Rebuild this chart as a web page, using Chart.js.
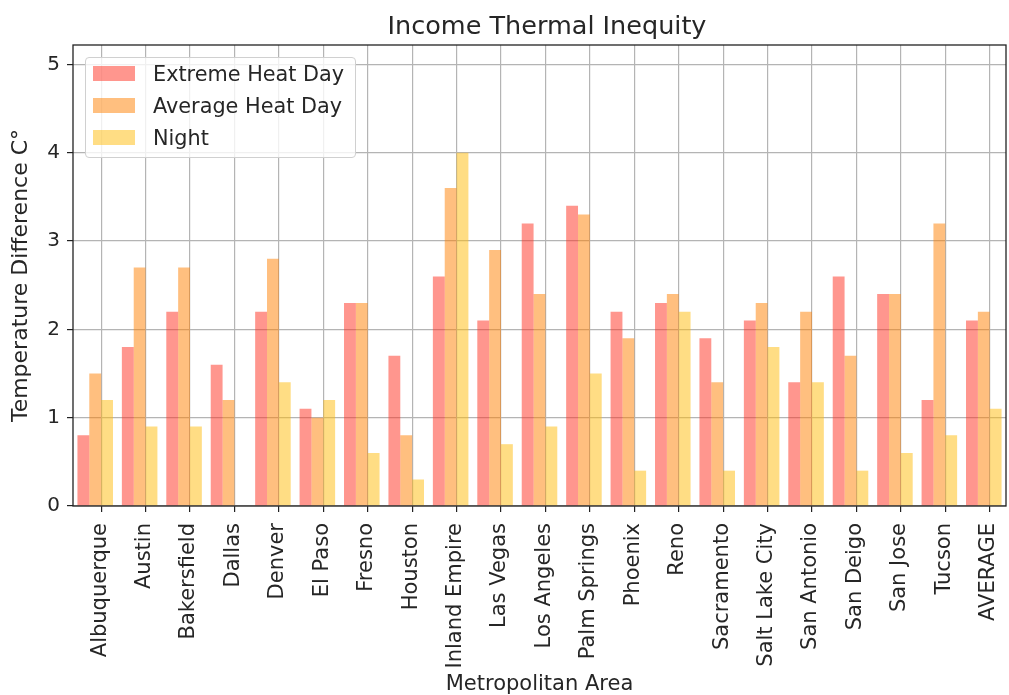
<!DOCTYPE html>
<html lang="en">

<head>
    <meta charset="UTF-8">
    <title>Income Thermal Inequity</title>
    <script src="https://cdn.jsdelivr.net/npm/chart.js"></script>
    <style>
        body { margin: 0; background: #fff; }
        #wrap { position: relative; width: 1009px; height: 695px; }
        #title {
            position: absolute; left: 347px; top: 10px; width: 400px; text-align: center;
            font-family: "DejaVu Sans", sans-serif; font-size: 25.5px; color: #262626; line-height: 30px;
        }
        #legend {
            position: absolute; left: 85px; top: 57px; width: 271px; height: 101px;
            border: 1px solid #d0d0d0; border-radius: 4px; background: rgba(255, 255, 255, 0.8);
            font-family: "DejaVu Sans", sans-serif; font-size: 20.8px; color: #262626;
            box-sizing: border-box;
        }
        .item { position: absolute; left: 7px; height: 24px; line-height: 24px; white-space: nowrap; }
        .sw { display: inline-block; width: 42px; height: 15px; vertical-align: middle; margin-right: 18px; position: relative; top: -2px; }
    </style>
</head>

<body>
    <div id="wrap">
        <canvas id="myChart" width="1009" height="695"></canvas>
        <div id="title">Income Thermal Inequity</div>
        <div id="legend"></div>
    </div>
    <script>
        const categories = ['Albuquerque', 'Austin', 'Bakersfield', 'Dallas', 'Denver', 'El Paso', 'Fresno',
            'Houston', 'Inland Empire', 'Las Vegas', 'Los Angeles', 'Palm Springs', 'Phoenix', 'Reno',
            'Sacramento', 'Salt Lake City', 'San Antonio', 'San Deigo', 'San Jose', 'Tucson', 'AVERAGE'];

        const extremeHeatDay = [0.8, 1.8, 2.2, 1.6, 2.2, 1.1, 2.3, 1.7, 2.6, 2.1, 3.2, 3.4, 2.2, 2.3, 1.9, 2.1, 1.4, 2.6, 2.4, 1.2, 2.1];
        const averageHeatDay = [1.5, 2.7, 2.7, 1.2, 2.8, 1.0, 2.3, 0.8, 3.6, 2.9, 2.4, 3.3, 1.9, 2.4, 1.4, 2.3, 2.2, 1.7, 2.4, 3.2, 2.2];
        const night = [1.2, 0.9, 0.9, 0, 1.4, 1.2, 0.6, 0.3, 4.0, 0.7, 0.9, 1.5, 0.4, 2.2, 0.4, 1.8, 1.4, 0.4, 0.6, 0.8, 1.1];

        const seriesNames = ['Extreme Heat Day', 'Average Heat Day', 'Night'];
        const seriesColors = ['rgba(255, 45, 30, 0.5)', 'rgba(255, 128, 0, 0.5)', 'rgba(255, 188, 10, 0.5)'];
        const yTicks = [0, 1, 2, 3, 4, 5];

        const font = "'DejaVu Sans', sans-serif";
        const textColor = '#262626';

        // box around the plot area, like matplotlib spines
        const frame = {
            id: 'frame',
            afterDraw(chart) {
                const a = chart.chartArea;
                const ctx = chart.ctx;
                ctx.save();
                ctx.strokeStyle = '#222';
                ctx.lineWidth = 1.3;
                ctx.strokeRect(a.left, a.top, a.right - a.left, a.bottom - a.top);
                ctx.restore();
            }
        };

        const ctx = document.getElementById('myChart').getContext('2d');
        const myChart = new Chart(ctx, {
            type: 'bar',
            data: {
                labels: categories,
                datasets: [
                    { label: seriesNames[0], data: extremeHeatDay, backgroundColor: seriesColors[0] },
                    { label: seriesNames[1], data: averageHeatDay, backgroundColor: seriesColors[1] },
                    { label: seriesNames[2], data: night, backgroundColor: seriesColors[2] }
                ]
            },
            options: {
                responsive: false,
                animation: false,
                categoryPercentage: 0.8,
                barPercentage: 1.0,
                layout: { padding: { left: 0, right: 3, top: 45, bottom: 0 } },
                plugins: {
                    legend: { display: false },
                    tooltip: { enabled: false },
                    title: { display: false }
                },
                scales: {
                    x: {
                        display: false,
                        offset: true
                    },
                    // second axis only for ticks, labels and vertical grid (ticks sit at the bar-group edge like the original)
                    x2: {
                        type: 'linear',
                        position: 'bottom',
                        offset: false,
                        min: -0.633,
                        max: categories.length - 0.633,
                        grid: { offset: false, color: '#b4b4b4', lineWidth: 1.2, tickLength: 6, tickColor: '#222' },
                        border: { display: false },
                        afterBuildTicks(scale) {
                            scale.ticks = categories.map((c, i) => ({ value: i }));
                        },
                        ticks: {
                            autoSkip: false,
                            maxRotation: 90,
                            minRotation: 90,
                            color: textColor,
                            font: { family: font, size: 21, lineHeight: 1.2 },
                            labelOffset: -1,
                            padding: 11,
                            callback: (v) => categories[v]
                        },
                        title: {
                            display: true,
                            text: 'Metropolitan Area',
                            color: textColor,
                            font: { family: font, size: 21, lineHeight: 1.0 },
                            padding: { top: 0, bottom: 0 }
                        },
                        afterFit(scale) {
                            scale.height = 189;
                            scale.paddingLeft = 0;
                            scale.paddingRight = 0;
                        }
                    },
                    y: {
                        min: 0,
                        max: 5.22,
                        grid: { color: '#b4b4b4', lineWidth: 1.2, tickLength: 6, tickColor: '#222' },
                        border: { display: false },
                        afterBuildTicks(scale) {
                            scale.ticks = yTicks.map(v => ({ value: v }));
                        },
                        ticks: {
                            color: textColor,
                            font: { family: font, size: 20 },
                            padding: 7
                        },
                        title: {
                            display: true,
                            text: 'Temperature Difference C°',
                            color: textColor,
                            font: { family: font, size: 22, lineHeight: 1.2 },
                            padding: { top: 8, bottom: 0 }
                        },
                        afterFit(scale) { scale.width = 73; }
                    }
                }
            },
            plugins: [frame]
        });

        // legend drawn inside the plot, upper left
        const legendDiv = document.getElementById('legend');
        seriesNames.forEach((name, i) => {
            const item = document.createElement('div');
            item.className = 'item';
            item.style.top = (4 + i * 32) + 'px';
            item.innerHTML = '<span class="sw" style="background:' + seriesColors[i] + '"></span>' + name;
            legendDiv.appendChild(item);
        });
    </script>

</body>

</html>
